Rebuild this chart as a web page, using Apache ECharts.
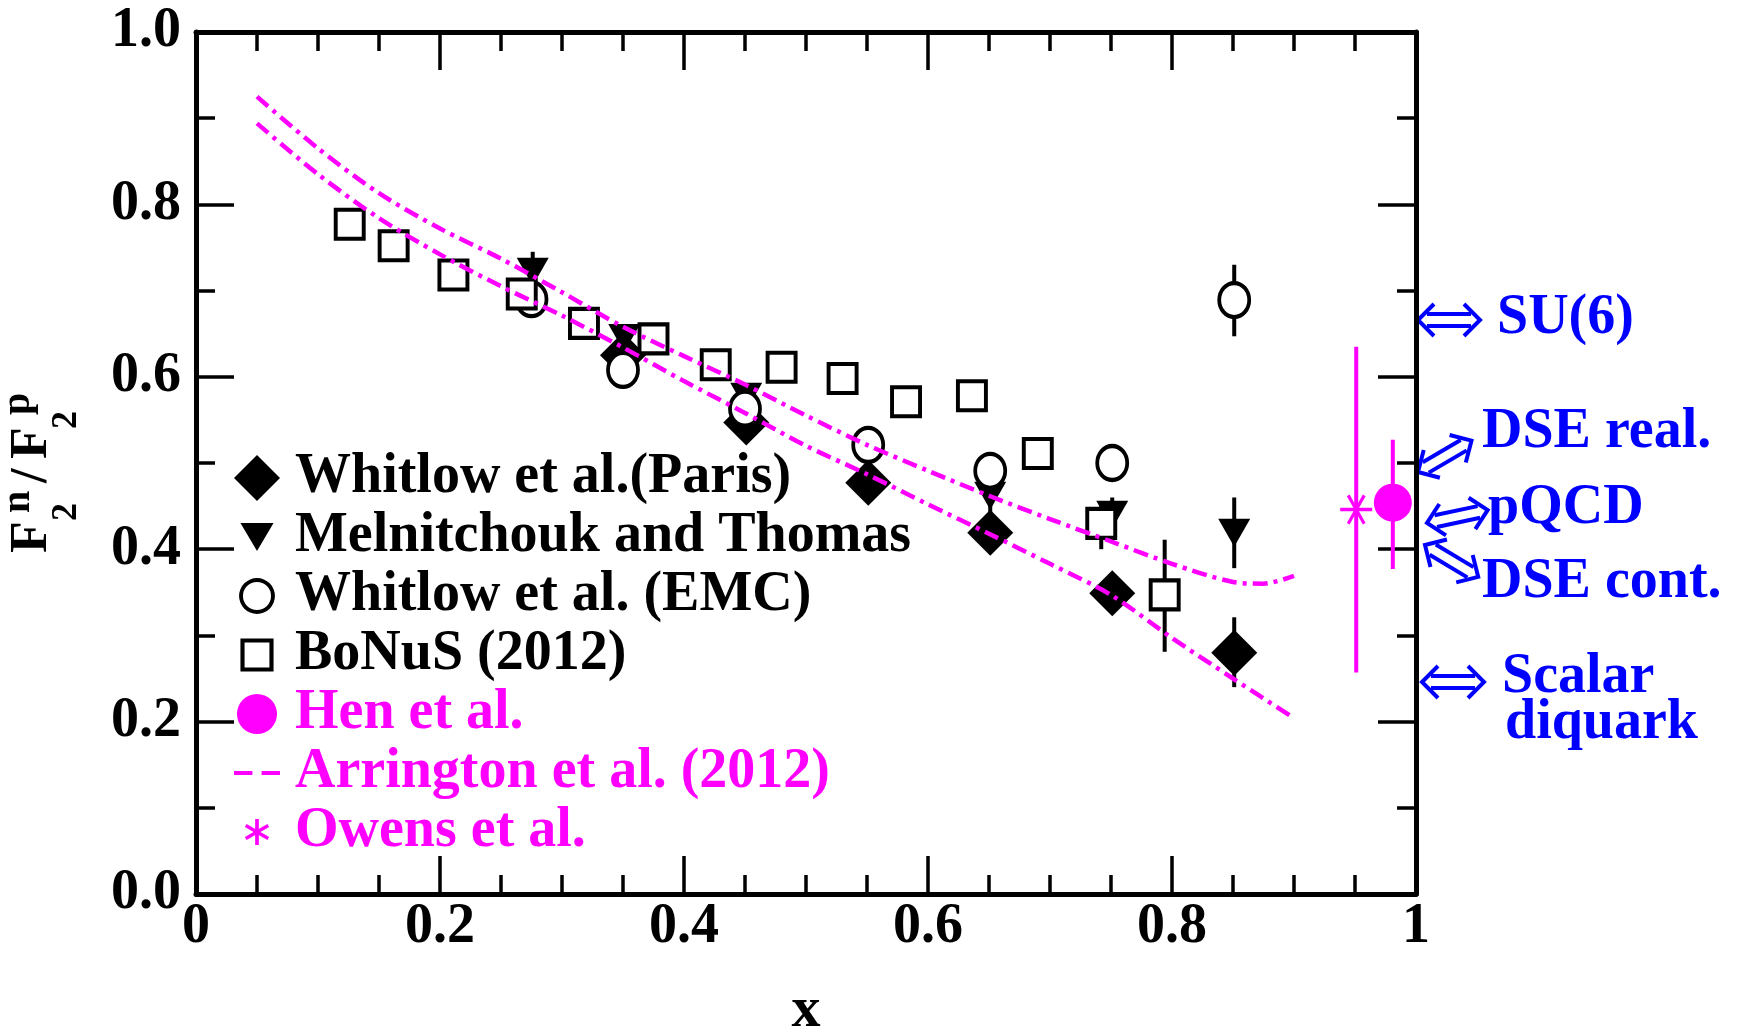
<!DOCTYPE html>
<html>
<head>
<meta charset="utf-8">
<script src="https://cdn.jsdelivr.net/npm/echarts@6/dist/echarts.min.js"></script>
<style>
html,body{margin:0;padding:0;background:#fff;}
#chart{width:1738px;height:1035px;}
</style>
</head>
<body>
<div id="chart"></div>
<script>
// ---------------- data ----------------
const parisX = [0.350, 0.451, 0.551, 0.651, 0.751, 0.851];
const parisY = [0.625, 0.547, 0.477, 0.419, 0.349, 0.280];
const parisErrX = [0.851];
const parisErrLo = [0.240];
const parisErrHi = [0.321];

const mtX = [0.276, 0.351, 0.451, 0.651, 0.751, 0.851];
const mtY = [0.722, 0.645, 0.577, 0.462, 0.440, 0.419];
const mtErrX = [0.276, 0.651, 0.751, 0.851];
const mtErrLo = [0.700, 0.440, 0.420, 0.378];
const mtErrHi = [0.745, 0.480, 0.460, 0.460];

const emcX = [0.275, 0.350, 0.450, 0.551, 0.651, 0.751, 0.851];
const emcY = [0.690, 0.608, 0.563, 0.521, 0.491, 0.500, 0.689];
const emcErrX = [0.851];
const emcErrLo = [0.647];
const emcErrHi = [0.730];

const bonusX = [0.126, 0.162, 0.211, 0.267, 0.318, 0.375, 0.426, 0.480, 0.530, 0.582, 0.636, 0.690, 0.742, 0.794];
const bonusY = [0.777, 0.752, 0.718, 0.696, 0.662, 0.644, 0.614, 0.611, 0.598, 0.571, 0.578, 0.511, 0.430, 0.347];
const bonusErrX = [0.742, 0.794];
const bonusErrLo = [0.400, 0.281];
const bonusErrHi = [0.455, 0.411];

const henX = [0.981];
const henY = [0.454];
const henErrLo = [0.377];
const henErrHi = [0.527];

const owensX = [0.951];
const owensY = [0.446];
const owensErrLo = [0.257];
const owensErrHi = [0.635];

const arrX     = [0.05, 0.10, 0.15, 0.20, 0.25, 0.30, 0.35, 0.40, 0.45, 0.50, 0.55, 0.60, 0.65, 0.70, 0.75, 0.80, 0.85, 0.875, 0.90];
const arrUpper = [0.925, 0.865, 0.813, 0.772, 0.737, 0.698, 0.658, 0.624, 0.591, 0.555, 0.521, 0.491, 0.462, 0.435, 0.409, 0.383, 0.362, 0.360, 0.369];
const arrLowerX = [0.05, 0.10, 0.15, 0.20, 0.25, 0.30, 0.35, 0.40, 0.45, 0.50, 0.55, 0.60, 0.65, 0.70, 0.75, 0.80, 0.85, 0.90];
const arrLower = [0.894, 0.835, 0.784, 0.742, 0.705, 0.671, 0.634, 0.595, 0.558, 0.520, 0.487, 0.452, 0.418, 0.383, 0.347, 0.297, 0.250, 0.204];

const seriesNames = ['Whitlow et al.(Paris)', 'Melnitchouk and Thomas', 'Whitlow et al. (EMC)', 'BoNuS (2012)', 'Hen et al.', 'Arrington et al. (2012)', 'Owens et al.'];

const xTicks = [0, 0.2, 0.4, 0.6, 0.8, 1];
const yTicks = [0, 0.2, 0.4, 0.6, 0.8, 1.0];

// ---------------- styling ----------------
const MAG = '#FF00FF';
const BLUE = '#0000FF';
const FONT = '"Liberation Serif", "Times New Roman", serif';

const pad = 'M0,0 L0,0 Z M10,10 L10,10 Z ';
const ICON_DIAMOND = 'path://M5,0 L10,5 L5,10 L0,5 Z';
const ICON_TRI = 'path://' + pad + 'M1.4,1.95 L8.6,1.95 L5,8.05 Z';
const ICON_RING = 'path://' + pad + 'M1.1,5 A3.9,3.9 0 1,1 8.9,5 A3.9,3.9 0 1,1 1.1,5 Z M1.95,5 A3.05,3.05 0 1,0 8.05,5 A3.05,3.05 0 1,0 1.95,5 Z';
const ICON_SQ = 'path://' + pad + 'M1.4,1.4 L8.6,1.4 L8.6,8.6 L1.4,8.6 Z M2.3,2.3 L2.3,7.7 L7.7,7.7 L7.7,2.3 Z';
const ICON_HEN = 'path://' + pad + 'M0.65,5 A4.35,4.35 0 1,1 9.35,5 A4.35,4.35 0 1,1 0.65,5 Z';
const ICON_DASH = 'path://' + pad + 'M0,4.55 L4,4.55 L4,5.45 L0,5.45 Z M6,4.55 L10,4.55 L10,5.45 L6,5.45 Z';
const ICON_AST = 'path://' + pad + 'M4.6,2.17 L5.4,2.17 L5.4,7.83 L4.6,7.83 Z M2.36,3.92 L2.74,3.26 L7.64,6.09 L7.26,6.75 Z M2.74,6.75 L2.36,6.09 L7.26,3.26 L7.64,3.92 Z';
const SYM_DOWN_TRI = 'path://M0,0 L10,0 L5,10 Z';
const SYM_AST = 'path://M0,4.45 L10,4.45 L10,5.55 L0,5.55 Z M2.07,0.92 L2.93,0.42 L7.93,9.08 L7.07,9.58 Z M2.93,9.58 L2.07,9.08 L7.07,0.42 L7.93,0.92 Z';

function zip(xs, ys) { return xs.map((x, i) => [x, ys[i]]); }

function errSeries(name, xs, lo, hi, color, width) {
  return {
    type: 'custom',
    name: name,
    xAxisIndex: 0, yAxisIndex: 0,
    z: 2,
    silent: true,
    data: xs.map((x, i) => [x, lo[i], hi[i]]),
    encode: { x: 0, y: [1, 2] },
    renderItem: function (params, api) {
      const a = api.coord([api.value(0), api.value(1)]);
      const b = api.coord([api.value(0), api.value(2)]);
      return { type: 'line', shape: { x1: a[0], y1: a[1], x2: b[0], y2: b[1] }, style: { stroke: color, lineWidth: width } };
    }
  };
}

function arrow(x, y, rot) {
  const s = { stroke: BLUE, lineWidth: 4, fill: null };
  return {
    type: 'group', x: x, y: y, rotation: rot,
    children: [
      { type: 'line', shape: { x1: 9, y1: -6, x2: 53, y2: -6 }, style: s },
      { type: 'line', shape: { x1: 9, y1: 6, x2: 53, y2: 6 }, style: s },
      { type: 'polyline', shape: { points: [[16, -16], [0, 0], [16, 16]] }, style: s },
      { type: 'polyline', shape: { points: [[46, -16], [62, 0], [46, 16]] }, style: s }
    ]
  };
}

function annText(str, x, y) {
  return { type: 'text', x: x, y: y, style: { text: str, fill: BLUE, font: 'bold 56px ' + FONT, align: 'left', verticalAlign: 'middle' } };
}

function yTitlePiece(str, x, y, size) {
  return { type: 'text', x: x, y: y, style: { text: str, fill: '#000', font: 'bold ' + size + 'px ' + FONT, align: 'left', verticalAlign: 'middle' } };
}

const axisCommon = {
  type: 'value', min: 0, max: 1, interval: 0.2,
  splitLine: { show: false },
  axisLine: { show: true, onZero: false, lineStyle: { color: '#000', width: 5 } },
  axisTick: { show: true, inside: true, length: 38, lineStyle: { color: '#000', width: 3.5 } },
  minorTick: { show: true, length: 19, lineStyle: { color: '#000', width: 3.5 } },
  minorSplitLine: { show: false }
};

const chart = echarts.init(document.getElementById('chart'), null, { renderer: 'canvas' });

const blackIcon = { color: '#000', borderWidth: 0, opacity: 1 };
const magIcon = { color: MAG, borderWidth: 0, opacity: 1 };

const option = {
  backgroundColor: '#fff',
  animation: false,
  grid: { left: 196, right: 322, top: 32, bottom: 141, containLabel: false, outerBoundsMode: 'none' },
  xAxis: [
    Object.assign({}, axisCommon, {
      position: 'bottom',
      minorTick: Object.assign({}, axisCommon.minorTick, { splitNumber: 4 }),
      axisLabel: { show: true, margin: 6, color: '#000', fontFamily: FONT, fontWeight: 'bold', fontSize: 56,
        formatter: function (v) { return String(xTicks.find(t => Math.abs(t - v) < 1e-9) ?? v); } }
    }),
    Object.assign({}, axisCommon, {
      position: 'top',
      minorTick: Object.assign({}, axisCommon.minorTick, { splitNumber: 4 }),
      axisLabel: { show: false }
    })
  ],
  yAxis: [
    Object.assign({}, axisCommon, {
      position: 'left',
      minorTick: Object.assign({}, axisCommon.minorTick, { splitNumber: 2 }),
      axisLabel: { show: true, margin: 15, color: '#000', fontFamily: FONT, fontWeight: 'bold', fontSize: 56,
        formatter: function (v) { const t = yTicks.find(t => Math.abs(t - v) < 1e-9); return (t ?? v).toFixed(1); } }
    }),
    Object.assign({}, axisCommon, {
      position: 'right',
      minorTick: Object.assign({}, axisCommon.minorTick, { splitNumber: 2 }),
      axisLabel: { show: false }
    })
  ],
  legend: {
    show: true,
    orient: 'vertical',
    left: 229, top: 445,
    itemWidth: 46, itemHeight: 46, itemGap: 3,
    selectedMode: false,
    symbolKeepAspect: true,
    textStyle: { fontFamily: FONT, fontWeight: 'bold', fontSize: 56, lineHeight: 56, color: '#000', padding: [0, 0, 0, 10] },
    data: [
      { name: seriesNames[0], icon: ICON_DIAMOND, itemStyle: blackIcon },
      { name: seriesNames[1], icon: ICON_TRI, itemStyle: blackIcon },
      { name: seriesNames[2], icon: ICON_RING, itemStyle: blackIcon },
      { name: seriesNames[3], icon: ICON_SQ, itemStyle: blackIcon },
      { name: seriesNames[4], icon: ICON_HEN, itemStyle: magIcon, textStyle: { color: MAG } },
      { name: seriesNames[5], icon: ICON_DASH, itemStyle: magIcon, textStyle: { color: MAG } },
      { name: seriesNames[6], icon: ICON_AST, itemStyle: magIcon, textStyle: { color: MAG } }
    ]
  },
  graphic: [
    // y axis title F2^n / F2^p
    {
      type: 'group', x: 50, y: 553, rotation: Math.PI / 2,
      children: [
        yTitlePiece('F', 0, -17, 52),
        yTitlePiece('2', 32, 17, 36),
        yTitlePiece('n', 40, -31, 40),
        yTitlePiece('/', 70, -17, 52),
        yTitlePiece('F', 94, -17, 52),
        yTitlePiece('2', 124, 17, 36),
        yTitlePiece('p', 138, -31, 40)
      ]
    },
    // x axis title
    { type: 'text', x: 806, y: 1011, style: { text: 'x', fill: '#000', font: 'bold 58px ' + FONT, align: 'center', verticalAlign: 'middle' } },
    // right side annotations
    arrow(1418, 320, 0),
    annText('SU(6)', 1497, 319),
    arrow(1418, 472, 0.53),
    annText('DSE real.', 1482, 433),
    arrow(1427, 523, 0.21),
    annText('pQCD', 1488, 509),
    arrow(1425, 545, -0.54),
    annText('DSE cont.', 1482, 583),
    arrow(1422, 682, 0),
    annText('Scalar', 1502, 678),
    annText('diquark', 1505, 724)
  ],
  series: [
    errSeries('err-paris', parisErrX, parisErrLo, parisErrHi, '#000', 4),
    errSeries('err-mt', mtErrX, mtErrLo, mtErrHi, '#000', 4),
    errSeries('err-emc', emcErrX, emcErrLo, emcErrHi, '#000', 4),
    errSeries('err-bonus', bonusErrX, bonusErrLo, bonusErrHi, '#000', 4),
    errSeries('err-hen', henX, henErrLo, henErrHi, MAG, 4),
    errSeries('err-owens', owensX, owensErrLo, owensErrHi, MAG, 4),
    {
      type: 'scatter', name: seriesNames[0], z: 3,
      symbol: 'diamond', symbolSize: [46, 46],
      itemStyle: { color: '#000', opacity: 1 },
      data: zip(parisX, parisY)
    },
    {
      type: 'scatter', name: seriesNames[1], z: 3,
      symbol: SYM_DOWN_TRI, symbolSize: [32, 28],
      itemStyle: { color: '#000', opacity: 1 },
      data: zip(mtX, mtY)
    },
    {
      type: 'scatter', name: seriesNames[2], z: 3,
      symbol: 'circle', symbolSize: [30, 34],
      itemStyle: { color: '#fff', borderColor: '#000', borderWidth: 4, opacity: 1 },
      data: zip(emcX, emcY)
    },
    {
      type: 'scatter', name: seriesNames[3], z: 3,
      symbol: 'rect', symbolSize: [28, 29],
      itemStyle: { color: '#fff', borderColor: '#000', borderWidth: 4, opacity: 1 },
      data: zip(bonusX, bonusY)
    },
    {
      type: 'scatter', name: seriesNames[4], z: 3,
      symbol: 'circle', symbolSize: 38,
      itemStyle: { color: MAG, opacity: 1 },
      data: zip(henX, henY)
    },
    {
      type: 'scatter', name: seriesNames[6], z: 3,
      symbol: SYM_AST, symbolSize: [32, 30],
      itemStyle: { color: MAG, opacity: 1 },
      data: zip(owensX, owensY)
    },
    {
      type: 'line', name: seriesNames[5], z: 5,
      color: MAG,
      smooth: 0.3, showSymbol: false, symbol: 'none',
      lineStyle: { color: MAG, width: 4.5, type: [15, 6, 4, 6] },
      itemStyle: { color: MAG },
      data: zip(arrX, arrUpper)
    },
    {
      type: 'line', name: seriesNames[5], z: 5,
      color: MAG,
      smooth: 0.3, showSymbol: false, symbol: 'none',
      lineStyle: { color: MAG, width: 4.5, type: [15, 6, 4, 6] },
      itemStyle: { color: MAG },
      data: zip(arrLowerX, arrLower)
    }
  ]
};

chart.setOption(option);
</script>
</body>
</html>
